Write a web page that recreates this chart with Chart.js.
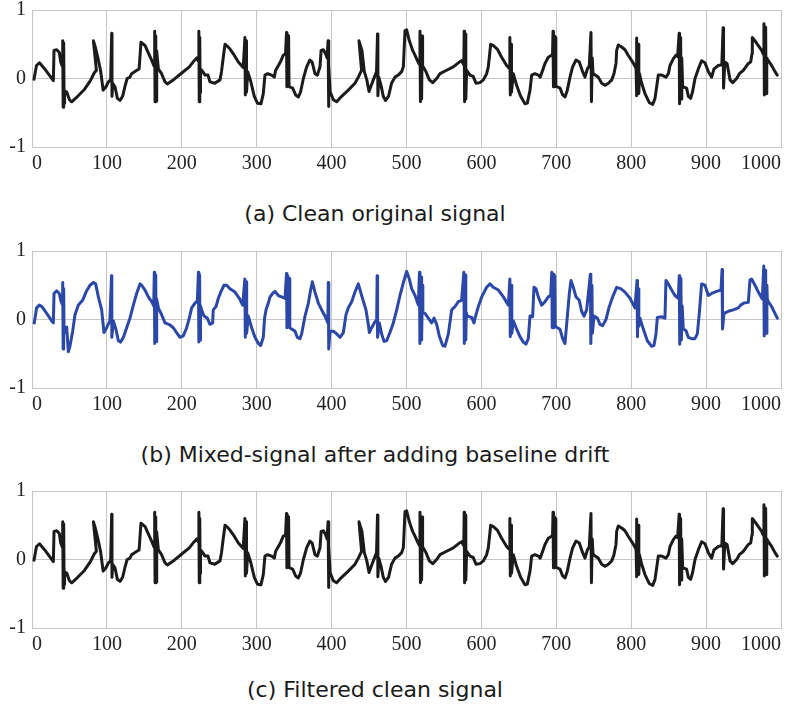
<!DOCTYPE html>
<html>
<head>
<meta charset="utf-8">
<script src="https://cdn.jsdelivr.net/npm/chart.js@4.4.1/dist/chart.umd.min.js"></script>
<style>
  html, body { margin: 0; padding: 0; background: #fff; }
  body { width: 796px; height: 707px; position: relative; overflow: hidden; }
  .panel { position: absolute; left: 0; }
  .caption {
    position: absolute; left: 75px; width: 600px; text-align: center;
    font-family: "DejaVu Sans", Verdana, sans-serif; font-size: 22px;
    line-height: 26px; color: #1a1a1a;
  }
</style>
</head>
<body>
<div class="panel" style="top:-8px"><canvas id="chart-a" width="796" height="185"></canvas></div>
<div class="caption" style="top:201px">(a) Clean original signal</div>
<div class="panel" style="top:233px"><canvas id="chart-b" width="796" height="185"></canvas></div>
<div class="caption" style="top:442px">(b) Mixed-signal after adding baseline drift</div>
<div class="panel" style="top:473px"><canvas id="chart-c" width="796" height="185"></canvas></div>
<div class="caption" style="top:677px">(c) Filtered clean signal</div>

<script>
// ==== Axis ticks ====
const xTicks = [0, 100, 200, 300, 400, 500, 600, 700, 800, 900, 1000];
const yTicks = [-1, 0, 1];

// ==== (a) clean original signal ====
const cleanX = [
  2.7, 6, 10, 17, 28.5, 29.4, 33, 36.5, 38.3, 40.5,
  41, 41.6, 42.3, 42.9, 43.5, 46.5, 50, 53, 61, 70,
  78, 83, 86, 82, 84.5, 88, 91.5, 95, 98.8, 102,
  105, 106.4, 106.8, 107.7, 110.8, 114, 117.5, 121, 124, 127,
  130.8, 133, 140, 143, 145.5, 151, 155, 160, 163, 163.8,
  164.3, 165.2, 165.8, 166.5, 168.7, 173, 177.6, 180.7, 190, 200,
  210, 215, 220, 222.3, 222.8, 223.3, 224, 224.5, 225, 228,
  231, 235, 237.6, 244, 251, 253, 255.4, 257.7, 261, 264.3,
  268.8, 275.5, 282, 284.3, 284.8, 285.8, 286.4, 288, 292, 296.8,
  301, 305.7, 308.8, 311, 314.6, 320, 323.5, 325.3, 329, 332.4,
  335.5, 338.5, 339.8, 340.3, 341.3, 341.8, 342.6, 343.2, 344.4, 348,
  352, 355.6, 358.5, 362.3, 366.7, 371, 374, 377.8, 381, 384.5,
  386, 389, 392, 394, 395.3, 395.8, 396.5, 398, 402.3, 406.7,
  413.4, 422.3, 431.2, 435.7, 440, 436.6, 440.5, 443.7, 447, 450,
  453, 455.7, 460, 461.3, 461.8, 463, 466, 469, 472, 476,
  480, 484.6, 489, 493.5, 495.8, 498, 500.2, 503.8, 508.2, 511.3,
  515, 517.5, 518, 518.6, 519.6, 520.2, 521, 521.5, 522.5, 526,
  530.5, 535, 540.3, 544.7, 553.6, 562.5, 570.5, 573.6, 576.5, 577,
  577.6, 578.6, 579.2, 580.3, 584.8, 589, 592.8, 598, 602.6, 607,
  609.2, 610.6, 612.4, 616, 621.2, 627, 633.7, 637, 638, 638.6,
  639.6, 640.2, 642.6, 647, 652.4, 658.2, 661.3, 664.9, 667.1, 671.5,
  676, 678.5, 681.8, 684.9, 689.3, 693.8, 695, 695.6, 696.2, 697.2,
  697.8, 698.8, 699.4, 700.5, 705, 708.5, 711.6, 714.7, 718.3, 721.8,
  726.3, 730.7, 735.2, 738.3, 741.5, 744, 746.3, 746.9, 748, 749,
  751.7, 756, 760.6, 765, 769.5, 774, 777, 779.7, 780.6, 782.8,
  787.3, 791.7, 796, 803, 806.5, 807, 807.6, 809.6, 810.2, 811,
  814, 818.4, 824, 828.7, 831.8, 834, 836.2, 840.7, 846.5, 849.6,
  851.8, 856.3, 859.8, 862, 864, 864.6, 866, 866.6, 867.5, 868.7,
  874, 876.3, 879.4, 882, 885.2, 889.6, 894, 898.5, 903, 907.4,
  910.5, 916.3, 921, 922.7, 923.3, 925, 928, 932, 935.5, 940.8,
  944.4, 949.7, 956.4, 959.5, 961.3, 961.7, 965.3, 969.7, 974.2, 976.5,
  977.2, 977.8, 979.5, 980.1, 981, 983, 987.5, 992, 995
];
const cleanY = [
  -0.01, 0.19, 0.23, 0.14, -0.03, 0.41, 0.42, 0.38, 0.24, 0.18,
  0.55, -0.42, 0.52, -0.36, -0.18, -0.2, -0.31, -0.34, -0.26, -0.16,
  -0.03, 0.08, 0.12, 0.55, 0.46, 0.3, 0.12, -0.17, -0.12, -0.05,
  -0.02, 0.66, -0.26, -0.07, -0.12, -0.29, -0.32, -0.26, -0.12, 0,
  0.02, 0.07, 0.12, 0.14, 0.53, 0.48, 0.38, 0.26, 0.18, 0.69,
  -0.34, 0.62, -0.33, 0.4, 0.14, 0.07, -0.05, -0.08, -0.01, 0.08,
  0.17, 0.24, 0.3, 0.25, 0.69, -0.34, 0.6, -0.2, 0.14, 0.1,
  0.05, 0.05, -0.05, -0.07, -0.02, 0.1, 0.31, 0.5, 0.47, 0.43,
  0.36, 0.24, 0.16, 0.6, -0.24, 0.55, -0.2, 0.1, -0.04, -0.26,
  -0.36, -0.37, -0.22, 0.05, 0.07, 0.05, 0.02, 0.12, 0.19, 0.26,
  0.34, 0.36, 0.67, -0.12, 0.64, -0.1, 0.62, -0.12, -0.12, -0.14,
  -0.24, -0.27, -0.2, 0, 0.17, 0.27, 0.24, 0.07, 0.05, 0.17,
  0.41, 0.42, 0.36, 0.3, 0.55, -0.41, 0.2, -0.19, -0.31, -0.34,
  -0.26, -0.17, -0.07, 0.02, 0.12, 0.55, 0.41, 0.1, -0.02, -0.19,
  -0.1, -0.02, 0.1, 0.65, -0.25, 0.02, -0.1, -0.26, -0.32, -0.26,
  -0.07, 0.02, 0.05, 0.1, 0.17, 0.7, 0.71, 0.55, 0.41, 0.34,
  0.25, 0.2, 0.69, -0.34, 0.6, -0.3, 0.62, 0.15, 0.17, 0.1,
  -0.02, -0.06, 0, 0.07, 0.12, 0.17, 0.24, 0.26, 0.2, 0.69,
  -0.34, 0.65, -0.3, 0.12, 0.05, 0.03, -0.07, -0.06, -0.02, 0.07,
  0.17, 0.31, 0.5, 0.48, 0.43, 0.31, 0.19, 0.15, 0.6, -0.24,
  0.5, -0.2, 0.07, -0.1, -0.26, -0.37, -0.36, -0.17, 0.05, 0.07,
  0.05, 0.02, 0.12, 0.22, 0.31, 0.34, 0.36, 0.69, -0.12, 0.62,
  -0.12, 0.6, -0.1, -0.12, -0.14, -0.24, -0.27, -0.17, 0.02, 0.17,
  0.27, 0.24, 0.1, 0.02, 0.14, 0.18, 0.67, -0.34, 0.3, 0.08,
  0.05, 0.02, -0.07, -0.1, -0.07, -0.02, 0.07, 0.22, 0.41, 0.49,
  0.46, 0.42, 0.34, 0.22, 0.15, 0.59, -0.25, 0.5, -0.22, 0.07,
  -0.07, -0.22, -0.35, -0.38, -0.29, -0.12, 0.05, 0.05, 0.02, 0.07,
  0.19, 0.29, 0.34, 0.32, 0.66, -0.37, 0.6, -0.3, 0.3, -0.12,
  -0.14, -0.26, -0.29, -0.19, 0, 0.14, 0.26, 0.23, 0.1, 0.02,
  0.14, 0.19, 0.2, 0.74, -0.14, 0.24, 0.22, -0.02, -0.06, 0,
  0.07, 0.12, 0.22, 0.24, 0.36, 0.6, 0.55, 0.48, 0.41, 0.35,
  0.8, -0.24, 0.75, -0.22, 0.3, 0.26, 0.19, 0.1, 0.05
];

// ==== (b) mixed signal with baseline drift ====
const mixedX = [
  3, 6.2, 9.8, 13, 19.6, 26.3, 28.5, 29.4, 32.9, 36.5,
  38.3, 40.5, 41, 41.6, 42.3, 42.8, 43, 46.3, 48.5, 50.5,
  54.3, 57.4, 61.9, 67.6, 72.1, 77.4, 81.9, 85, 88.6, 93,
  96.1, 99.7, 104, 106.2, 106.6, 108.6, 112, 115.3, 118.4, 122,
  126.4, 130.8, 135.3, 139.7, 144.2, 146.4, 150.9, 155.3, 159.8, 162.5,
  163.3, 163.9, 165.2, 165.8, 166.5, 168.7, 173, 177.6, 184.2, 188.7,
  193, 197.6, 202, 206.5, 210, 213.2, 217.6, 220.7, 222.2, 222.8,
  223.8, 224.3, 225, 226.5, 229.6, 234, 237.6, 241.2, 242, 245.7,
  248.8, 252, 256.3, 260, 264.3, 271, 276.8, 281.3, 284.2, 284.8,
  286, 286.6, 288.8, 293.3, 297.7, 302.2, 305.3, 308.8, 310.5, 312.4,
  315.5, 317.8, 321.3, 324.4, 328.9, 333.3, 337.8, 339.8, 340.4, 341.6,
  342.2, 343.6, 344.2, 346.7, 351.1, 354.2, 357.8, 360, 364.5, 369,
  372, 374.3, 377.8, 382.3, 386.7, 391.2, 395, 395.6, 396.2, 397.8,
  402.3, 406.8, 411.2, 415.7, 419.2, 422.3, 426.8, 431.2, 435.7, 440.1,
  445.9, 449, 450.4, 453.5, 457, 460.2, 460.8, 461.4, 463.7, 466.8,
  470, 473.5, 477.9, 482.4, 486.9, 491.3, 495.8, 500.2, 503.8, 506.9,
  511.4, 515.8, 517.3, 517.9, 519.6, 520.2, 521.3, 521.8, 524.7, 529.1,
  533.6, 536.7, 540.3, 543.8, 548.3, 551.4, 555.9, 560.3, 564.8, 569.2,
  573.6, 576.6, 577.2, 578.6, 579.2, 579.8, 581.2, 587, 590.1, 591.5,
  595.9, 600.4, 607, 611.5, 615.9, 622.6, 629.3, 636, 638, 638.6,
  640, 640.6, 642.6, 647.1, 651.5, 656, 659.5, 662.6, 664.9, 668.4,
  670.2, 672.9, 676, 680.4, 684.9, 689.3, 692.4, 694, 694.6, 696.2,
  696.8, 698, 698.6, 701.3, 704.9, 708.5, 711.6, 713.8, 717.4, 719.6,
  722.7, 726.3, 730.7, 733.8, 737, 740.5, 745.5, 746.1, 747.6, 748.2,
  750.3, 754.8, 758.3, 761.9, 766.3, 770.8, 775.2, 780.6, 785.9, 791.7,
  798.4, 805, 807.8, 808.4, 809.6, 810.2, 811.7, 816.2, 821.5, 827.3,
  830.4, 833.1, 834.9, 840.6, 845.1, 846.4, 849.5, 854, 858.4, 862.9,
  864.2, 864.8, 866.4, 867, 868, 869.6, 873.1, 876.2, 880.7, 885.1,
  888.3, 891, 894, 898.5, 903, 907.4, 914.1, 919.9, 921.3, 921.9,
  923.9, 929.7, 936.3, 943, 946.1, 950.6, 956.4, 958.6, 960.8, 965.3,
  969.7, 975, 977, 977.6, 979.5, 980.1, 981.2, 981.7, 983.1, 987.5,
  990.6, 995.1
];
const mixedY = [
  -0.05, 0.17, 0.21, 0.19, 0.09, -0.02, -0.05, 0.38, 0.42, 0.38,
  0.28, 0.22, 0.54, -0.43, 0.45, -0.2, -0.14, -0.11, -0.47, -0.4,
  -0.17, 0.07, 0.21, 0.28, 0.4, 0.5, 0.54, 0.52, 0.33, 0.14,
  -0.19, -0.12, -0.02, 0.64, -0.26, -0.02, -0.14, -0.31, -0.33, -0.26,
  -0.12, 0.02, 0.21, 0.38, 0.52, 0.5, 0.43, 0.33, 0.26, 0.2,
  0.69, -0.35, 0.65, -0.32, 0.3, 0.17, 0.07, -0.05, -0.08, -0.12,
  -0.19, -0.26, -0.24, -0.12, 0.02, 0.17, 0.24, 0.27, 0.69, -0.33,
  0.65, -0.3, 0.2, 0.14, 0.05, 0.02, -0.07, -0.05, 0.14, 0.19,
  0.31, 0.4, 0.5, 0.5, 0.45, 0.4, 0.31, 0.21, 0.59, -0.26,
  0.55, -0.2, 0.05, -0.12, -0.26, -0.35, -0.38, -0.26, 0.02, 0.14,
  0.24, 0.33, 0.38, 0.41, 0.35, 0.33, 0.31, 0.67, -0.12, 0.64,
  -0.1, 0.6, -0.12, -0.14, -0.17, -0.26, -0.28, -0.21, 0.05, 0.24,
  0.43, 0.55, 0.4, 0.24, 0.14, 0.05, -0.05, 0.54, -0.43, -0.17,
  -0.17, -0.21, -0.26, -0.19, 0.07, 0.17, 0.26, 0.4, 0.52, 0.35,
  0.14, -0.07, -0.19, -0.12, -0.05, 0, 0.64, -0.26, -0.05, -0.21,
  -0.32, -0.31, -0.19, -0.05, 0.14, 0.35, 0.54, 0.7, 0.59, 0.45,
  0.35, 0.21, 0.69, -0.35, 0.62, -0.3, 0.5, 0.1, 0.09, 0.02,
  -0.05, 0.02, -0.07, -0.24, -0.38, -0.39, -0.21, 0.14, 0.19, 0.26,
  0.28, 0.69, -0.35, 0.65, -0.3, 0.1, 0.05, 0.03, -0.05, 0.02,
  0.19, 0.33, 0.47, 0.52, 0.47, 0.43, 0.33, 0.21, 0.59, -0.25,
  0.5, -0.2, -0.02, -0.14, -0.25, -0.33, -0.36, -0.28, 0.05, 0.04,
  0.47, 0.45, 0.33, 0.21, 0.26, 0.33, 0.35, 0.69, -0.12, 0.66,
  -0.12, 0.64, -0.1, -0.12, -0.14, -0.28, -0.35, -0.07, 0.38, 0.57,
  0.47, 0.33, 0.28, 0.12, 0.05, 0.14, 0.66, -0.35, 0.5, -0.2,
  0.05, 0.02, -0.07, -0.09, 0, 0.19, 0.33, 0.47, 0.45, 0.4,
  0.31, 0.17, 0.57, -0.25, 0.45, -0.1, 0.02, -0.14, -0.31, -0.39,
  -0.38, -0.21, 0.03, 0.04, 0.02, 0.57, 0.52, 0.43, 0.35, 0.31,
  0.64, -0.36, 0.6, -0.3, 0.2, -0.14, -0.16, -0.26, -0.28, -0.28,
  -0.21, 0.1, 0.52, 0.5, 0.35, 0.38, 0.41, 0.43, 0.73, -0.14,
  0.09, 0.12, 0.14, 0.17, 0.21, 0.24, 0.25, 0.58, 0.59, 0.5,
  0.4, 0.3, 0.78, -0.24, 0.72, -0.2, 0.5, 0.3, 0.26, 0.19,
  0.12, 0.02
];

// ==== (c) filtered signal: in the figure it reads the same as (a) ====
const filteredX = cleanX;
const filteredY = cleanY;

const GRID = "#c6c6c6";
const TICK_FONT = { family: "'Liberation Serif', 'Times New Roman', serif", size: 20 };

function toPoints(xs, ys) {
  return xs.map((x, i) => ({ x: x, y: ys[i] }));
}

function makeChart(id, xs, ys, color) {
  return new Chart(document.getElementById(id), {
    type: "line",
    data: {
      datasets: [{
        data: toPoints(xs, ys),
        borderColor: color,
        borderWidth: 3,
        borderJoinStyle: "round",
        borderCapStyle: "round",
        pointRadius: 0,
        tension: 0,
        fill: false
      }]
    },
    options: {
      responsive: false,
      animation: false,
      events: [],
      layout: { padding: { top: 14, right: 15, bottom: 0, left: 0 } },
      plugins: { legend: { display: false }, tooltip: { enabled: false } },
      scales: {
        x: {
          type: "linear",
          min: 0,
          max: 1000,
          afterBuildTicks: (s) => { s.ticks = xTicks.map(v => ({ value: v })); },
          afterFit: (s) => { s.height = 30; },
          ticks: {
            align: "inner", padding: 5, color: "#222", font: TICK_FONT,
            maxRotation: 0, autoSkip: false,
            callback: (v) => String(v)
          },
          grid: { color: GRID, lineWidth: 1, drawTicks: false },
          border: { display: true, color: GRID }
        },
        y: {
          type: "linear",
          min: -1,
          max: 1,
          afterBuildTicks: (s) => { s.ticks = yTicks.map(v => ({ value: v })); },
          afterFit: (s) => { s.width = 32; },
          ticks: { padding: 6, color: "#222", font: TICK_FONT, callback: (v) => String(v) },
          grid: { color: GRID, lineWidth: 1, drawTicks: false },
          border: { display: true, color: GRID }
        }
      }
    }
  });
}

makeChart("chart-a", cleanX, cleanY, "#1b1b1b");
makeChart("chart-b", mixedX, mixedY, "#2b47a8");
makeChart("chart-c", filteredX, filteredY, "#1b1b1b");
</script>
</body>
</html>
